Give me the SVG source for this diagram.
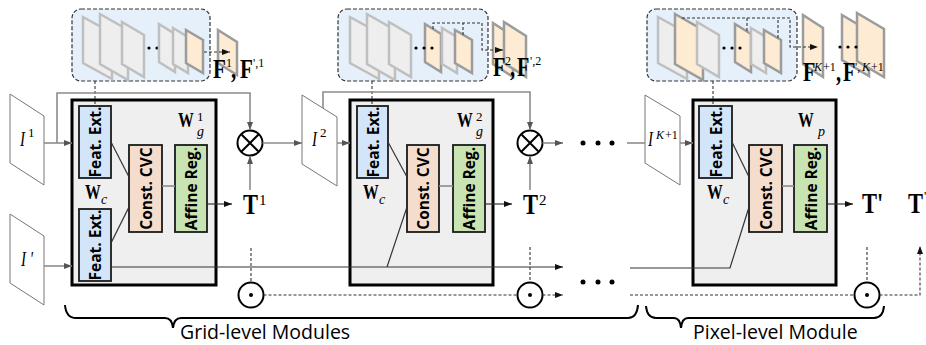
<svg xmlns="http://www.w3.org/2000/svg" width="926" height="345" viewBox="0 0 926 345">
<defs>
<style>
.fg{fill:#eeeeee;stroke:#bfbfbf;stroke-width:2.5}
.fo{fill:#fdebd4;stroke:#9c9c9c;stroke-width:2.5}
.panel{fill:#e6f0fb;stroke:#333;stroke-width:1.2;stroke-dasharray:4 2}
.mod{fill:#efefef;stroke:#000;stroke-width:3}
.fe{fill:#d3e6f9;stroke:#1a1a1a;stroke-width:1.8}
.cvc{fill:#f4ddcc;stroke:#1a1a1a;stroke-width:1.8}
.aff{fill:#c9e4b3;stroke:#1a1a1a;stroke-width:1.8}
.lbl{font-family:"Open Sans","Liberation Sans",sans-serif;font-weight:700;font-size:15.5px;fill:#000}
.gl{stroke:#8c8c8c;stroke-width:1.6;fill:none}
.bl{stroke:#333;stroke-width:1.2;fill:none}
.dl{stroke:#333;stroke-width:1.1;stroke-dasharray:3 2;fill:none}
.circ{fill:#fff;stroke:#000;stroke-width:2}
.img{fill:#fff;stroke:#777;stroke-width:1}
.mb{font-family:"Liberation Serif",serif;font-weight:700;fill:#000}
.mi{font-family:"Liberation Serif",serif;font-style:italic;fill:#000}
.mr{font-family:"Liberation Serif",serif;fill:#000}
.cap{font-family:"Open Sans","Liberation Sans",sans-serif;font-size:19.5px;fill:#000}
.brace{fill:none;stroke:#000;stroke-width:2}
</style>
<marker id="ab" viewBox="0 0 8 6" refX="8" refY="3" markerWidth="8" markerHeight="6" orient="auto" markerUnits="userSpaceOnUse"><path d="M0,0L8,3L0,6z" fill="#111"/></marker>
<marker id="ag" viewBox="0 0 8 6" refX="8" refY="3" markerWidth="8" markerHeight="6" orient="auto" markerUnits="userSpaceOnUse"><path d="M0,0L8,3L0,6z" fill="#555"/></marker>
</defs>
<rect width="926" height="345" fill="#fff"/>

<!-- Feature panels -->
<g id="panel1">
<rect class="panel" x="72" y="9" width="138" height="72" rx="9"/>
<path class="fg" d="M83,17L112,33L112,79L83,63Z"/>
<path class="fg" d="M100,14L128,30L128,80L100,64Z"/>
<path class="fg" d="M122,22L144,35L144,77L122,64Z"/>
<circle cx="149" cy="48" r="1.6"/><circle cx="157" cy="48" r="1.6"/><circle cx="165" cy="48" r="1.6"/>
<path class="fg" d="M159,24L175,34L175,72L159,62Z"/>
<path class="fg" d="M173,28L188,37L188,73L173,64Z"/>
<path class="fo" d="M186,30L203,40L203,73L186,63Z"/>
<path class="fo" d="M218,30L237,42L237,75L218,63Z"/>
<text class="mb" font-size="28" transform="translate(213,78) scale(0.75,1)">F</text>
<text class="mr" font-size="12" x="226" y="67">1</text>
<text class="mb" font-size="28" transform="translate(231,78) scale(0.75,1)">,</text>
<text class="mb" font-size="28" transform="translate(240,78) scale(0.75,1)">F</text>
<text class="mr" font-size="12" x="253" y="67">',1</text>
</g>

<g id="panel2">
<rect class="panel" x="338" y="9" width="150" height="72" rx="9"/>
<path class="fg" d="M350,17L379,33L379,79L350,63Z"/>
<path class="fg" d="M367,14L395,30L395,80L367,64Z"/>
<path class="fg" d="M389,22L411,35L411,77L389,64Z"/>
<path class="fo" d="M425,24L441,34L441,72L425,62Z"/>
<path class="fg" d="M442,28L457,37L457,73L442,64Z"/>
<path class="fo" d="M455,30L472,40L472,73L455,63Z"/>
<circle cx="416" cy="48" r="1.6"/><circle cx="424" cy="48" r="1.6"/><circle cx="432" cy="48" r="1.6"/>
<path class="fo" d="M493,23L513,36L513,77L493,64Z"/>
<path class="fo" d="M504,22L526,36L526,77L504,63Z"/>
<text class="mb" font-size="27" transform="translate(493,76) scale(0.75,1)">F</text>
<text class="mr" font-size="12" x="505" y="65">2</text>
<text class="mb" font-size="27" transform="translate(510,76) scale(0.75,1)">,</text>
<text class="mb" font-size="27" transform="translate(517,76) scale(0.75,1)">F</text>
<text class="mr" font-size="12" x="530" y="65">',2</text>
</g>

<g id="panel3">
<rect class="panel" x="647" y="9" width="150" height="72" rx="9"/>
<path class="fg" d="M658,17L687,33L687,79L658,63Z"/>
<path class="fo" d="M675,14L703,30L703,80L675,64Z"/>
<path class="fg" d="M697,22L719,35L719,77L697,64Z"/>
<path class="fo" d="M735,24L751,34L751,72L735,62Z"/>
<path class="fg" d="M751,28L766,37L766,73L751,64Z"/>
<path class="fo" d="M764,30L781,40L781,73L764,63Z"/>
<circle cx="724" cy="48" r="1.6"/><circle cx="732" cy="48" r="1.6"/><circle cx="740" cy="48" r="1.6"/>
<path class="fo" d="M803,15L823,28L823,77L803,64Z"/>
<path class="fo" d="M842,15L869,31L869,76L842,60Z"/>
<path class="fo" d="M857,13L884,29L884,77L857,61Z"/>
<circle cx="840" cy="47" r="1.6"/><circle cx="848" cy="47" r="1.6"/><circle cx="856" cy="47" r="1.6"/>
<text class="mb" font-size="27" transform="translate(803,81) scale(0.75,1)">F</text>
<text class="mi" font-size="12" x="814" y="71">K</text>
<text class="mr" font-size="12" x="823" y="71">+1</text>
<text class="mb" font-size="27" transform="translate(836,81) scale(0.75,1)">,</text>
<text class="mb" font-size="27" transform="translate(843,81) scale(0.75,1)">F</text>
<text class="mr" font-size="12" x="855" y="71">',</text>
<text class="mi" font-size="12" x="862" y="71">K</text>
<text class="mr" font-size="12" x="871" y="71">+1</text>
</g>

<!-- Images -->
<g id="img1">
<path class="img" d="M10,94L44,116L44,185L10,163Z"/>
<text class="mi" font-size="20" transform="translate(20,146) scale(0.75,1)">I</text>
<text class="mr" font-size="13" x="28" y="137">1</text>
</g>
<g id="imgp">
<path class="img" d="M10,214L44,236L44,305L10,283Z"/>
<text class="mi" font-size="20" transform="translate(21,266) scale(0.75,1)">I '</text>
</g>
<g id="img2">
<path class="img" d="M302,95L337,117L337,186L302,164Z"/>
<text class="mi" font-size="20" transform="translate(312,146) scale(0.75,1)">I</text>
<text class="mr" font-size="13" x="320" y="137">2</text>
</g>
<g id="imgk">
<path class="img" d="M645,95L680,116L680,185L645,163Z"/>
<text class="mi" font-size="20" transform="translate(648,146) scale(0.75,1)">I</text>
<text class="mi" font-size="12" x="656" y="139">K</text>
<text class="mr" font-size="12" x="665" y="139">+1</text>
</g>

<!-- Module 1 -->
<g id="module1">
<rect class="mod" x="72" y="100" width="144" height="185"/>
<rect class="fe" x="79" y="106" width="32" height="72"/>
<rect class="fe" x="79" y="209" width="32" height="72"/>
<rect class="cvc" x="129" y="145" width="33" height="87"/>
<rect class="aff" x="175" y="145" width="32" height="87"/>
<text class="lbl" transform="translate(95,142) rotate(-90)" text-anchor="middle" dominant-baseline="central">Feat. Ext.</text>
<text class="lbl" transform="translate(95,245) rotate(-90)" text-anchor="middle" dominant-baseline="central">Feat. Ext.</text>
<text class="lbl" transform="translate(145.5,188.5) rotate(-90)" text-anchor="middle" dominant-baseline="central">Const. CVC</text>
<text class="lbl" transform="translate(191,188.5) rotate(-90)" text-anchor="middle" dominant-baseline="central">Affine Reg.</text>
<text class="mb" font-size="21" transform="translate(178,127) scale(0.75,1)">W</text>
<text class="mr" font-size="13" x="197" y="121">1</text>
<text class="mi" font-size="14" x="197" y="136">g</text>
<text class="mb" font-size="21" transform="translate(85,199) scale(0.75,1)">W</text>
<text class="mi" font-size="14" x="101" y="204">c</text>
</g>

<!-- Module 2 -->
<g id="module2">
<rect class="mod" x="350" y="100" width="143" height="185"/>
<rect class="fe" x="357" y="106" width="31" height="72"/>
<rect class="cvc" x="407" y="145" width="32" height="87"/>
<rect class="aff" x="453" y="145" width="32" height="87"/>
<text class="lbl" transform="translate(372.5,142) rotate(-90)" text-anchor="middle" dominant-baseline="central">Feat. Ext.</text>
<text class="lbl" transform="translate(423,188.5) rotate(-90)" text-anchor="middle" dominant-baseline="central">Const. CVC</text>
<text class="lbl" transform="translate(469,188.5) rotate(-90)" text-anchor="middle" dominant-baseline="central">Affine Reg.</text>
<text class="mb" font-size="21" transform="translate(457,127) scale(0.75,1)">W</text>
<text class="mr" font-size="13" x="476" y="121">2</text>
<text class="mi" font-size="14" x="476" y="136">g</text>
<text class="mb" font-size="21" transform="translate(363,199) scale(0.75,1)">W</text>
<text class="mi" font-size="14" x="379" y="204">c</text>
</g>

<!-- Module 3 -->
<g id="module3">
<rect class="mod" x="693" y="100" width="143" height="185"/>
<rect class="fe" x="699" y="106" width="33" height="72"/>
<rect class="cvc" x="749" y="145" width="33" height="87"/>
<rect class="aff" x="794" y="145" width="33" height="87"/>
<text class="lbl" transform="translate(715.5,142) rotate(-90)" text-anchor="middle" dominant-baseline="central">Feat. Ext.</text>
<text class="lbl" transform="translate(765.5,188.5) rotate(-90)" text-anchor="middle" dominant-baseline="central">Const. CVC</text>
<text class="lbl" transform="translate(810.5,188.5) rotate(-90)" text-anchor="middle" dominant-baseline="central">Affine Reg.</text>
<text class="mb" font-size="21" transform="translate(798,127) scale(0.75,1)">W</text>
<text class="mi" font-size="14" x="818" y="136">p</text>
<text class="mb" font-size="21" transform="translate(707,199) scale(0.75,1)">W</text>
<text class="mi" font-size="14" x="723" y="204">c</text>
</g>

<!-- Outputs -->
<g id="t1"><text class="mb" font-size="30" transform="translate(243,214) scale(0.75,1)">T</text><text class="mr" font-size="15" x="259" y="205">1</text></g>
<g id="t2"><text class="mb" font-size="30" transform="translate(523,214) scale(0.75,1)">T</text><text class="mr" font-size="15" x="539" y="205">2</text></g>
<g id="tp"><text class="mb" font-size="30" transform="translate(862,213) scale(0.75,1)">T'</text></g>
<g id="tf"><text class="mb" font-size="30" transform="translate(908,213) scale(0.75,1)">T</text><text class="mr" font-size="13" x="924" y="200">'</text></g>

<!-- Operators -->
<g id="mul1"><circle class="circ" cx="250" cy="143" r="12.5"/><path d="M241,134L259,152M259,134L241,152" stroke="#000" stroke-width="2"/></g>
<g id="mul2"><circle class="circ" cx="530" cy="143" r="12.5"/><path d="M521,134L539,152M539,134L521,152" stroke="#000" stroke-width="2"/></g>
<g id="dot1"><circle class="circ" cx="251" cy="295" r="12.5"/><circle cx="251" cy="295" r="2"/></g>
<g id="dot2"><circle class="circ" cx="530" cy="295" r="12.5"/><circle cx="530" cy="295" r="2"/></g>
<g id="dot3"><circle class="circ" cx="867" cy="295" r="12.5"/><circle cx="867" cy="295" r="2"/></g>

<g id="ellipsis">
<circle cx="583" cy="143" r="2.5"/><circle cx="598" cy="143" r="2.5"/><circle cx="612" cy="143" r="2.5"/>
<circle cx="583" cy="282" r="2.5"/><circle cx="598" cy="282" r="2.5"/><circle cx="612" cy="282" r="2.5"/>
</g>

<!-- Connectors -->
<g id="connectors">
<path class="dl" d="M95,81V106"/>
<path class="dl" d="M372,81V106"/>
<path class="dl" d="M713,81V106"/>
<path class="dl" d="M204,52H230" marker-end="url(#ab)"/>
<path class="dl" d="M433,29V23H482V50H503" marker-end="url(#ab)"/>
<path class="dl" d="M463,35V23"/>
<path class="dl" d="M682,18H790V47H818" marker-end="url(#ab)"/>
<path class="dl" d="M747,31V18"/>
<path class="dl" d="M778,38V18"/>
<path class="gl" d="M44,143H72" marker-end="url(#ag)"/>
<path class="gl" d="M57,143V93H250V130" marker-end="url(#ag)"/>
<path class="gl" d="M44,266H72" marker-end="url(#ag)"/>
<path class="bl" d="M111,142L129,177"/>
<path class="bl" d="M111,243L129,207"/>
<path class="gl" d="M162,186H175"/>
<path class="bl" d="M207,204H232" marker-end="url(#ab)"/>
<path class="gl" d="M250,190V156" marker-end="url(#ag)"/>
<path class="gl" d="M262.5,143H302" marker-end="url(#ag)"/>
<path class="bl" d="M111,267H563" marker-end="url(#ab)"/>
<path class="dl" d="M251,248V282"/>
<path class="dl" d="M263.5,295H517.5"/>
<path class="gl" d="M323,108V92H530V130" marker-end="url(#ag)"/>
<path class="gl" d="M337,143H350" marker-end="url(#ag)"/>
<path class="bl" d="M388,142L407,177"/>
<path class="bl" d="M387,267L407,207"/>
<path class="gl" d="M439,186H453"/>
<path class="bl" d="M485,204H512" marker-end="url(#ab)"/>
<path class="gl" d="M530,190V156" marker-end="url(#ag)"/>
<path class="gl" d="M542.5,143H563" marker-end="url(#ag)"/>
<path class="dl" d="M530,247V282"/>
<path class="dl" d="M542.5,295H563" marker-end="url(#ab)"/>
<path class="gl" d="M627,143H645"/>
<path class="gl" d="M680,143H693" marker-end="url(#ag)"/>
<path class="bl" d="M732,142L749,177"/>
<path class="bl" d="M630,268H730L749,207"/>
<path class="gl" d="M782,186H794"/>
<path class="bl" d="M827,204H853" marker-end="url(#ab)"/>
<path class="dl" d="M867,247V282"/>
<path class="dl" d="M630,295H854.5"/>
<path class="dl" d="M879.5,295H920V246" marker-end="url(#ab)"/>
</g>

<!-- Braces and captions -->
<g id="grid-brace">
<path class="brace" d="M65,305Q66,318 76,318L165,318Q172,318 173,328Q174,318 181,318L628,318Q637,318 638,305"/>
<text class="cap" x="180" y="339">Grid-level Modules</text>
</g>
<g id="pixel-brace">
<path class="brace" d="M646,306Q647,318 656,318L674,318Q680,318 681,328Q682,318 688,318L874,318Q883,318 884,306"/>
<text class="cap" x="693" y="339">Pixel-level Module</text>
</g>
</svg>
